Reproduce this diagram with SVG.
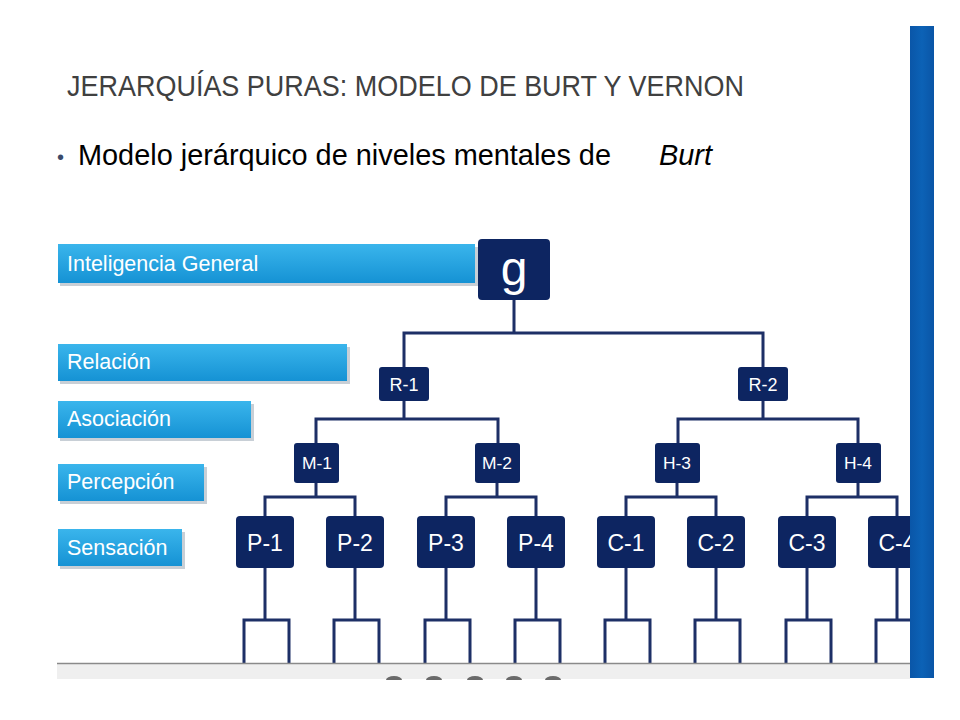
<svg xmlns="http://www.w3.org/2000/svg" width="960" height="720" viewBox="0 0 960 720">
<defs>
<linearGradient id="lbl" x1="0" y1="0" x2="0" y2="1">
<stop offset="0" stop-color="#3ab5ec"/>
<stop offset="1" stop-color="#1592d4"/>
</linearGradient>
<linearGradient id="bar" x1="0" y1="0" x2="1" y2="0">
<stop offset="0" stop-color="#0a56a8"/>
<stop offset="0.5" stop-color="#0c62b6"/>
<stop offset="1" stop-color="#0a55a6"/>
</linearGradient>
</defs>
<style>
.node{fill:#0d2561}
.lb{fill:url(#lbl)}
.sh{fill:#9aa7b5;opacity:0.55}
.lt{font-family:"Liberation Sans",Arial,sans-serif;fill:#ffffff;font-size:21.5px}
.nt{font-family:"Liberation Sans",Arial,sans-serif;fill:#ffffff;text-anchor:middle}
.ln{fill:none;stroke:#1d2f66;stroke-width:3;stroke-linejoin:miter}
</style>
<rect width="960" height="720" fill="#ffffff"/>
<text x="67" y="96" font-family="Liberation Sans, Arial, sans-serif" font-size="29" fill="#404040" textLength="677" lengthAdjust="spacingAndGlyphs">JERARQUÍAS PURAS: MODELO DE BURT Y VERNON</text>
<text x="57" y="164" font-family="Liberation Sans, Arial, sans-serif" font-size="20" fill="#3a4a6a">•</text>
<text x="78" y="165" font-family="Liberation Sans, Arial, sans-serif" font-size="30" fill="#000000" textLength="533" lengthAdjust="spacingAndGlyphs">Modelo jerárquico de niveles mentales de</text>
<text x="659" y="165" font-family="Liberation Sans, Arial, sans-serif" font-size="30" font-style="italic" fill="#000000" textLength="53" lengthAdjust="spacingAndGlyphs">Burt</text>
<g id="label-inteligencia"><rect class="sh" x="60" y="247" width="418" height="39"/><rect class="lb" x="58" y="244" width="417" height="39"/><text class="lt" x="67" y="271">Inteligencia General</text></g>
<g id="label-relacion"><rect class="sh" x="60" y="347" width="290" height="37"/><rect class="lb" x="58" y="344" width="289" height="37"/><text class="lt" x="67" y="369">Relación</text></g>
<g id="label-asociacion"><rect class="sh" x="60" y="404" width="194" height="37"/><rect class="lb" x="58" y="401" width="193" height="37"/><text class="lt" x="67" y="426">Asociación</text></g>
<g id="label-percepcion"><rect class="sh" x="60" y="467" width="147" height="37"/><rect class="lb" x="58" y="464" width="146" height="37"/><text class="lt" x="67" y="489">Percepción</text></g>
<g id="label-sensacion"><rect class="sh" x="60" y="532" width="125" height="37"/><rect class="lb" x="58" y="529" width="124" height="37"/><text class="lt" x="67" y="555">Sensación</text></g>
<g id="connectors">
<path class="ln" d="M514 300V333M404 367V333H763V367"/>
<path class="ln" d="M404 401V419M316 443V419H498V443M763 401V419M678 443V419H858V443"/>
<path class="ln" d="M316 483V497M265 516V497H355V516M497 483V497M446 516V497H536V516M677 483V497M626 516V497H716V516M858 483V497M807 516V497H897V516"/>
<path class="ln" d="M265 568V620M244 663V620H289V663M355 568V620M334 663V620H379V663M446 568V620M425 663V620H470V663M536 568V620M515 663V620H560V663M626 568V620M605 663V620H650V663M716 568V620M695 663V620H740V663M807 568V620M786 663V620H831V663M897 568V620M876 663V620H921V663"/>
</g>
<g id="g"><rect class="node" x="478" y="239" width="72" height="61" rx="4"/><text class="nt" x="514" y="285" font-size="48">g</text></g>
<g id="r1"><rect class="node" x="379" y="367" width="50" height="34" rx="3"/><text class="nt" x="404" y="391" font-size="18">R-1</text></g>
<g id="r2"><rect class="node" x="738" y="367" width="50" height="34" rx="3"/><text class="nt" x="763" y="391" font-size="18">R-2</text></g>
<g id="m1"><rect class="node" x="294" y="443" width="45" height="40" rx="3"/><text class="nt" x="317" y="469" font-size="17" textLength="30" lengthAdjust="spacingAndGlyphs">M-1</text></g>
<g id="m2"><rect class="node" x="475" y="443" width="45" height="40" rx="3"/><text class="nt" x="497" y="469" font-size="17" textLength="30" lengthAdjust="spacingAndGlyphs">M-2</text></g>
<g id="h3"><rect class="node" x="655" y="443" width="45" height="40" rx="3"/><text class="nt" x="677" y="469" font-size="17" textLength="28" lengthAdjust="spacingAndGlyphs">H-3</text></g>
<g id="h4"><rect class="node" x="836" y="443" width="45" height="40" rx="3"/><text class="nt" x="858" y="469" font-size="17" textLength="28" lengthAdjust="spacingAndGlyphs">H-4</text></g>
<g id="p1"><rect class="node" x="236" y="516" width="58" height="52" rx="4"/><text class="nt" x="265" y="551" font-size="23">P-1</text></g>
<g id="p2"><rect class="node" x="326" y="516" width="58" height="52" rx="4"/><text class="nt" x="355" y="551" font-size="23">P-2</text></g>
<g id="p3"><rect class="node" x="417" y="516" width="58" height="52" rx="4"/><text class="nt" x="446" y="551" font-size="23">P-3</text></g>
<g id="p4"><rect class="node" x="507" y="516" width="58" height="52" rx="4"/><text class="nt" x="536" y="551" font-size="23">P-4</text></g>
<g id="c1"><rect class="node" x="597" y="516" width="58" height="52" rx="4"/><text class="nt" x="626" y="551" font-size="23">C-1</text></g>
<g id="c2"><rect class="node" x="687" y="516" width="58" height="52" rx="4"/><text class="nt" x="716" y="551" font-size="23">C-2</text></g>
<g id="c3"><rect class="node" x="778" y="516" width="58" height="52" rx="4"/><text class="nt" x="807" y="551" font-size="23">C-3</text></g>
<g id="c4"><rect class="node" x="868" y="516" width="58" height="52" rx="4"/><text class="nt" x="897" y="551" font-size="23">C-4</text></g>
<rect x="57" y="664" width="853" height="15" fill="#efefef"/>
<line x1="57" y1="663.5" x2="910" y2="663.5" stroke="#8a8a8a" stroke-width="1.5"/>
<g fill="#6a6a6a">
<path d="M386 680A8 4 0 0 1 402 680Z"/>
<path d="M426 680A8 4 0 0 1 442 680Z"/>
<path d="M467 680A8 4 0 0 1 483 680Z"/>
<path d="M506 680A8 4 0 0 1 522 680Z"/>
<path d="M545 680A8 4 0 0 1 561 680Z"/>
</g>
<rect x="910" y="26" width="24" height="652" fill="url(#bar)"/>
</svg>
